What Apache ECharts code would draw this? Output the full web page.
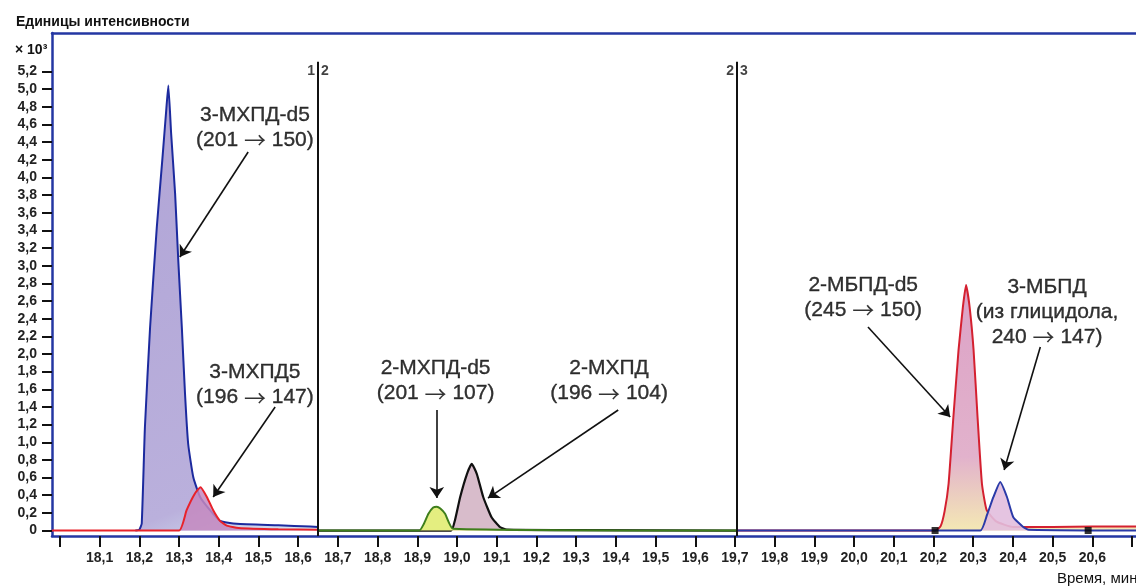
<!DOCTYPE html>
<html><head><meta charset="utf-8">
<script src="https://cdn.jsdelivr.net/npm/echarts@6/dist/echarts.min.js"></script>
<style>html,body{margin:0;padding:0;background:#fff}#c{width:1136px;height:586px}</style>
</head><body><div id="c"></div>
<script>
// ---- axes ----
const yTickValues = [0,0.2,0.4,0.6,0.8,1.0,1.2,1.4,1.6,1.8,2.0,2.2,2.4,2.6,2.8,3.0,3.2,3.4,3.6,3.8,4.0,4.2,4.4,4.6,4.8,5.0,5.2];
const xTickValues = [18.0,18.1,18.2,18.3,18.4,18.5,18.6,18.7,18.8,18.9,19.0,19.1,19.2,19.3,19.4,19.5,19.6,19.7,19.8,19.9,20.0,20.1,20.2,20.3,20.4,20.5,20.6,20.7];
const xLabelValues = [18.1,18.2,18.3,18.4,18.5,18.6,18.7,18.8,18.9,19.0,19.1,19.2,19.3,19.4,19.5,19.6,19.7,19.8,19.9,20.0,20.1,20.2,20.3,20.4,20.5,20.6];
const xRange = [17.98, 20.71];
const yRange = [-0.062, 5.636];

// ---- traces (time, min ; intensity, x10^3) ----
// segment 1: 3-МХПД-d5 (201 -> 150), blue
const mcpdD5_t = [18.19,18.200,18.206,18.214,18.227,18.244,18.258,18.268,18.273,18.280,18.290,18.298,18.307,18.315,18.323,18.336,18.353,18.378,18.403,18.445,18.55,18.63,18.65];
const mcpdD5_v = [0,0.01,0.08,1.17,2.3,3.44,4.21,4.78,5.04,4.5,3.82,3.06,2.3,1.55,0.98,0.6,0.38,0.23,0.11,0.076,0.06,0.045,0.04];
// segment 1: 3-МХПД5 (196 -> 147), red
const mcpd_t = [17.98,18.30,18.319,18.340,18.354,18.370,18.386,18.403,18.42,18.45,18.55,18.65];
const mcpd_v = [0,0,0.23,0.42,0.49,0.38,0.23,0.11,0.056,0.03,0.015,0.01];
// segment 2: 2-МХПД-d5 (201 -> 107), green
const mcpd2D5_t = [18.65,18.905,18.917,18.928,18.940,18.949,18.958,18.97,18.99,19.705];
const mcpd2D5_v = [0,0,0.08,0.19,0.26,0.27,0.25,0.19,0.02,0];
// segment 2: 2-МХПД (196 -> 104), black
const mcpd2_t = [18.65,18.985,18.995,19.008,19.025,19.037,19.05,19.066,19.087,19.108,19.125,19.3,19.705];
const mcpd2_v = [0,0,0.12,0.38,0.64,0.755,0.64,0.38,0.15,0.04,0.01,0.005,0];
// segment 3: 2-МБПД-d5 (245 -> 150), red
const mbpdD5_t = [19.705,20.205,20.218,20.228,20.238,20.25,20.263,20.274,20.282,20.291,20.301,20.311,20.322,20.334,20.359,20.401,20.5,20.6,20.71];
const mbpdD5_v = [0,0,0.05,0.22,0.53,1.28,2.04,2.53,2.78,2.53,2.04,1.28,0.53,0.23,0.1,0.04,0.04,0.045,0.045];
// segment 3: 3-МБПД (из глицидола, 240 -> 147), blue
const mbpd_t = [19.705,20.318,20.335,20.351,20.368,20.385,20.401,20.426,20.44,20.71];
const mbpd_v = [0,0,0.18,0.38,0.55,0.38,0.15,0.04,0.01,0];

// ---- annotations ----
const labelTexts = ['3-МХПД-d5\n(201 → 150)','3-МХПД5\n(196 → 147)','2-МХПД-d5\n(201 → 107)','2-МХПД\n(196 → 104)','2-МБПД-d5\n(245 → 150)','3-МБПД\n(из глицидола,\n240 → 147)'];
const labelPos = [[18.491,4.566],[18.491,1.648],[18.946,1.694],[19.383,1.694],[20.023,2.64],[20.486,2.475]];
const arrowFrom = [[18.474,4.288],[18.542,1.399],[18.949,1.365],[19.406,1.365],[20.035,2.305],[20.469,2.079]];
const arrowTo = [[18.302,3.098],[18.386,0.38],[18.949,0.368],[19.078,0.368],[20.242,1.286],[20.378,0.685]];
const dividerT = [18.65, 19.705];
const dividerTop = 5.31;
const segmentNames = ['1','2','3'];
const integrationMarks = [[20.204,0],[20.5895,0]];

const FONT = "'Liberation Sans', Arial, sans-serif";
const fmt = v => v === 0 ? '0' : v.toFixed(1).replace('.', ',');
const zip = (t, v) => t.map((x, i) => [x, v[i]]);

function trace(name, t, v, color, fill, z, w) {
  return {
    type: 'line', name, data: zip(t, v), showSymbol: false, smooth: 0.15, z,
    lineStyle: { color, width: w || 2 }, itemStyle: { color },
    areaStyle: { color: fill, opacity: 1 }, silent: true, clip: true
  };
}

const chart = echarts.init(document.getElementById('c'), null, { renderer: 'canvas' });
const axisBlue = '#2437a3';

const dividerLines = dividerT.map(t => [{ coord: [t, yRange[0]] }, { coord: [t, dividerTop] }]);
const dividerLabels = [];
dividerT.forEach((t, i) => {
  dividerLabels.push({ value: [t, 5.2], label: { position: 'left', distance: 3, formatter: segmentNames[i] } });
  dividerLabels.push({ value: [t, 5.2], label: { position: 'right', distance: 3, formatter: segmentNames[i + 1] } });
});

chart.setOption({
  animation: false,
  backgroundColor: '#fff',
  title: [
    { text: 'Единицы интенсивности', left: 11, top: 10, textStyle: { fontFamily: FONT, fontSize: 14, fontWeight: 'bold', color: '#111' } },
    { text: '× 10³', left: 10, top: 38, textStyle: { fontFamily: FONT, fontSize: 14, fontWeight: 'bold', color: '#111' } },
    { text: 'Время, мин', left: 1052, top: 566, textStyle: { fontFamily: FONT, fontSize: 15, fontWeight: 'normal', color: '#111' } }
  ],
  grid: { left: 52, right: 0, top: 33, bottom: 50, containLabel: false },
  xAxis: [{
    type: 'value', min: xRange[0], max: xRange[1],
    axisLine: { show: true, onZero: false, lineStyle: { color: axisBlue, width: 2.5 } },
    axisTick: { show: true, customValues: xTickValues, length: 11, lineStyle: { color: '#111', width: 2 } },
    axisLabel: { customValues: xLabelValues, formatter: fmt, margin: 15, fontFamily: FONT, fontSize: 14, fontWeight: 'bold', color: '#222' },
    splitLine: { show: false }
  }, {
    type: 'value', position: 'top', min: xRange[0], max: xRange[1],
    axisLine: { show: true, onZero: false, lineStyle: { color: axisBlue, width: 2.5 } },
    axisTick: { show: false }, axisLabel: { show: false }, splitLine: { show: false }
  }],
  yAxis: {
    type: 'value', min: yRange[0], max: yRange[1],
    axisLine: { show: true, onZero: false, lineStyle: { color: axisBlue, width: 2.5 } },
    axisTick: { show: true, customValues: yTickValues, length: 10, lineStyle: { color: '#111', width: 2 } },
    axisLabel: { customValues: yTickValues, formatter: fmt, margin: 15, fontFamily: FONT, fontSize: 14, fontWeight: 'bold', color: '#222' },
    splitLine: { show: false }
  },
  series: [
    trace('3-МХПД-d5', mcpdD5_t, mcpdD5_v, '#1c2a9e', new echarts.graphic.LinearGradient(0,0,1,1,[{offset:0,color:'#b0a4d6'},{offset:0.85,color:'#bab0dc'},{offset:1,color:'#d8ecf4'}]), 2),
    trace('3-МХПД5', mcpd_t, mcpd_v, '#e8222a', 'rgba(196,136,192,0.85)', 3),
    trace('2-МХПД', mcpd2_t, mcpd2_v, '#111111', '#d8bccb', 3, 2.2),
    trace('2-МХПД-d5', mcpd2D5_t, mcpd2D5_v, '#3f7f1c', '#e4ee80', 4, 2),
    trace('2-МБПД-d5', mbpdD5_t, mbpdD5_v, '#d42030', new echarts.graphic.LinearGradient(0,0,0,1,[{offset:0,color:'#dca2c6'},{offset:0.7,color:'#e2b2cc'},{offset:1,color:'#f4e8b4'}]), 2),
    trace('3-МБПД', mbpd_t, mbpd_v, '#2a3aa8', 'rgba(226,190,222,0.9)', 3),
    {
      type: 'scatter', name: 'marks', data: integrationMarks, symbol: 'rect', symbolSize: 7,
      itemStyle: { color: '#000' }, z: 6, silent: true
    },
    {
      type: 'scatter', name: 'dividers', data: dividerLabels, symbolSize: 0, z: 7, silent: true,
      label: { show: true, fontFamily: FONT, fontSize: 14, fontWeight: 'bold', color: '#111' },
      markLine: { silent: true, symbol: ['none', 'none'], label: { show: false },
        lineStyle: { color: '#111', width: 2, type: 'solid' }, data: dividerLines }
    },
    {
      type: 'scatter', name: 'annotations', symbolSize: 0, z: 8, silent: true,
      data: labelPos.map((p, i) => [p[0], p[1], labelTexts[i]]),
      label: {
        show: true, position: 'inside',
        formatter: p => p.data[2].split('\n').map(l => l.split('→').map(s => '{t|' + s + '}').join('{ar|→}')).join('\n'),
        color: '#000', align: 'center', verticalAlign: 'middle', lineHeight: 25,
        rich: {
          t: { fontFamily: FONT, fontSize: 21, color: '#000', lineHeight: 25, textBorderColor: '#000', textBorderWidth: 0.35 },
          ar: { fontFamily: "'Noto Sans CJK SC', 'DejaVu Sans', sans-serif", fontSize: 22, color: '#000', lineHeight: 25, padding: [0, 0, 0, 0] }
        }
      },
      markLine: { silent: true, symbol: ['none', 'arrow'], symbolSize: 11, label: { show: false },
        lineStyle: { color: '#111', width: 1.6, type: 'solid' },
        data: arrowFrom.map((a, i) => [{ coord: a }, { coord: arrowTo[i] }]) }
    }
  ]
});
</script></body></html>
